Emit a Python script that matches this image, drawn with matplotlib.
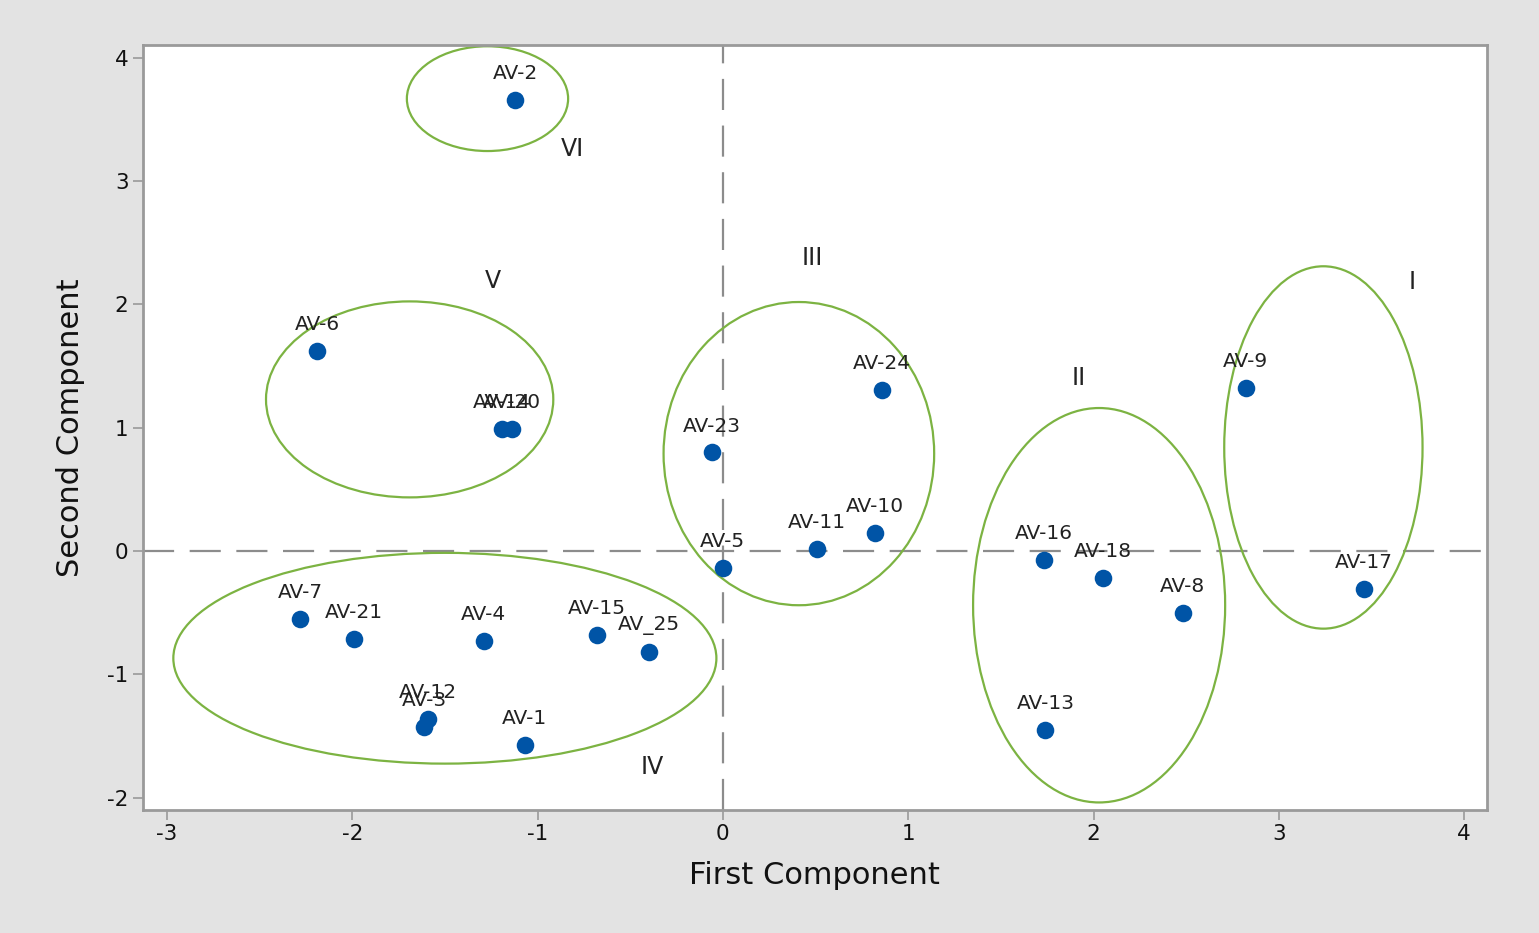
import matplotlib.pyplot as plt
from matplotlib.patches import Ellipse

plt.rcParams["axes.unicode_minus"] = False

# PCA scores of the accessions (first vs second component)
names = ["AV-2", "AV-6", "AV-14", "AV-20", "AV-23", "AV-24", "AV-5", "AV-11",
         "AV-10", "AV-16", "AV-18", "AV-8", "AV-13", "AV-9", "AV-17", "AV-7",
         "AV-21", "AV-4", "AV-15", "AV_25", "AV-12", "AV-3", "AV-1"]
pc1 = [-1.12, -2.19, -1.19, -1.14, -0.06, 0.86, 0.00, 0.51,
       0.82, 1.73, 2.05, 2.48, 1.74, 2.82, 3.46, -2.28,
       -1.99, -1.29, -0.68, -0.40, -1.59, -1.61, -1.07]
pc2 = [3.66, 1.62, 0.99, 0.99, 0.80, 1.31, -0.14, 0.02,
       0.15, -0.07, -0.22, -0.50, -1.45, 1.32, -0.31, -0.55,
       -0.71, -0.73, -0.68, -0.82, -1.36, -1.43, -1.57]

# cluster outlines: centre, width/height and where the group number goes
cluster_ids = ["I", "II", "III", "IV", "V", "VI"]
cluster_cx = [3.24, 2.03, 0.41, -1.50, -1.69, -1.27]
cluster_cy = [0.84, -0.44, 0.79, -0.87, 1.23, 3.67]
cluster_w = [1.07, 1.36, 1.46, 2.93, 1.55, 0.87]
cluster_h = [2.94, 3.20, 2.46, 1.71, 1.59, 0.85]
cluster_lx = [3.72, 1.92, 0.48, -0.38, -1.24, -0.81]
cluster_ly = [2.18, 1.40, 2.38, -1.75, 2.19, 3.26]

fig = plt.figure(figsize=(15.39, 9.33), dpi=100, facecolor="#e3e3e3")
ax = fig.add_axes([0.093, 0.132, 0.873, 0.820])
ax.set_facecolor("white")

ax.axhline(0, color="#8c8c8c", lw=1.6, ls=(0, (14, 7)), zorder=1)
ax.axvline(0, color="#8c8c8c", lw=1.6, ls=(0, (14, 7)), zorder=1)

for i in range(len(cluster_ids)):
    ax.add_patch(Ellipse((cluster_cx[i], cluster_cy[i]), cluster_w[i], cluster_h[i],
                         fill=False, ec="#7cb342", lw=1.6, zorder=2))
    ax.text(cluster_lx[i], cluster_ly[i], cluster_ids[i], fontsize=17,
            ha="center", va="center", color="#222222")

ax.scatter(pc1, pc2, s=160, color="#0054a6", zorder=3, linewidths=0)
for n, x, y in zip(names, pc1, pc2):
    ax.annotate(n, (x, y), xytext=(0, 19), textcoords="offset points",
                ha="center", va="center", fontsize=14.5, color="#222222")

ax.set_xlim(-3.128, 4.121)
ax.set_ylim(-2.10, 4.107)
ax.set_xticks(range(-3, 5))
ax.set_yticks(range(-2, 5))
ax.tick_params(colors="#999999", labelcolor="#111111", labelsize=15.5,
               length=7, width=1.2)
for sp in ax.spines.values():
    sp.set_color("#9a9a9a")
    sp.set_linewidth(2)

ax.set_xlabel("First Component", fontsize=22, color="#111111", labelpad=12)
ax.set_ylabel("Second Component", fontsize=22, color="#111111", labelpad=16)

fig.savefig("out.png", dpi=100, facecolor=fig.get_facecolor())
